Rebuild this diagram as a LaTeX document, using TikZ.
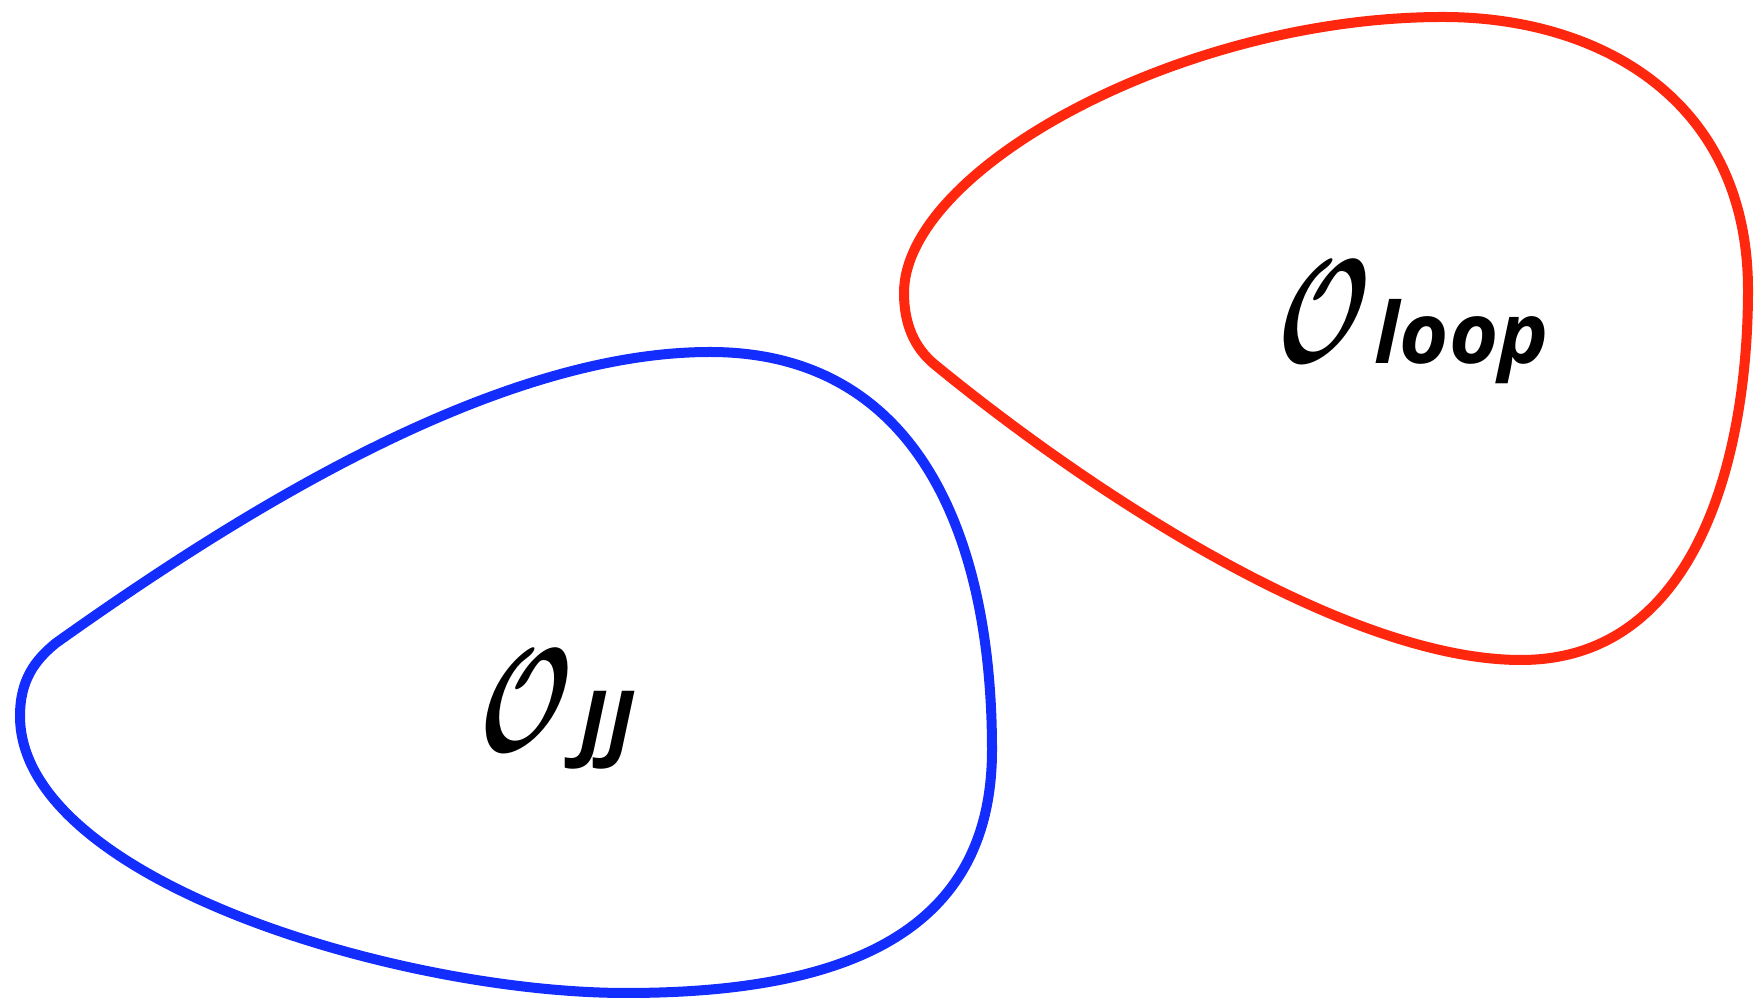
\RequirePackage{fix-cm}
\documentclass[tikz,border=0pt]{standalone}
\usepackage{fontspec}
\newfontfamily\subfont{Open Sans}
\definecolor{loopblue}{RGB}{20,45,255}
\definecolor{loopred}{RGB}{255,40,15}
\newcommand{\bigOglyph}{\scalebox{0.6}[1]{$\mathcal{O}$}}
\tikzset{
  curve/.style={line width=0.1cm, line join=round},
  bigO/.style={inner sep=0pt, anchor=base west, xslant=0.2, font=\fontsize{42}{48}\selectfont\boldmath},
  subtext/.style={inner sep=0pt, anchor=base west, font=\fontsize{24}{28}\selectfont\subfont\bfseries\itshape}
}
\begin{document}
\begin{tikzpicture}[x=0.01cm, y=-0.01cm]
\useasboundingbox (0,0) rectangle (1754,1001);
% blue loop
\draw[curve, loopblue] (56,643) .. controls (250,505) and (500,352) .. (710,352)
  .. controls (920,352) and (992,540) .. (992,750)
  .. controls (992,930) and (850,993) .. (626,993)
  .. controls (400,993) and (20,880) .. (20,716)
  .. controls (20,680) and (35,660) .. (56,643) -- cycle;
% red loop
\draw[curve, loopred] (934,364) .. controls (1100,500) and (1350,660) .. (1521,660)
  .. controls (1700,660) and (1748,450) .. (1748,290)
  .. controls (1748,100) and (1600,17) .. (1443,17)
  .. controls (1180,17) and (904,170) .. (904,293)
  .. controls (904,325) and (915,348) .. (934,364) -- cycle;
% labels
\node[bigO] (Ojj) at (474,752) {\bigOglyph};
\node[subtext] (jj) at (578,752) {JJ};
\node[bigO] (Oloop) at (1272,363) {\bigOglyph};
\node[subtext] (loop) at (1374,364) {loop};
\end{tikzpicture}
\end{document}
